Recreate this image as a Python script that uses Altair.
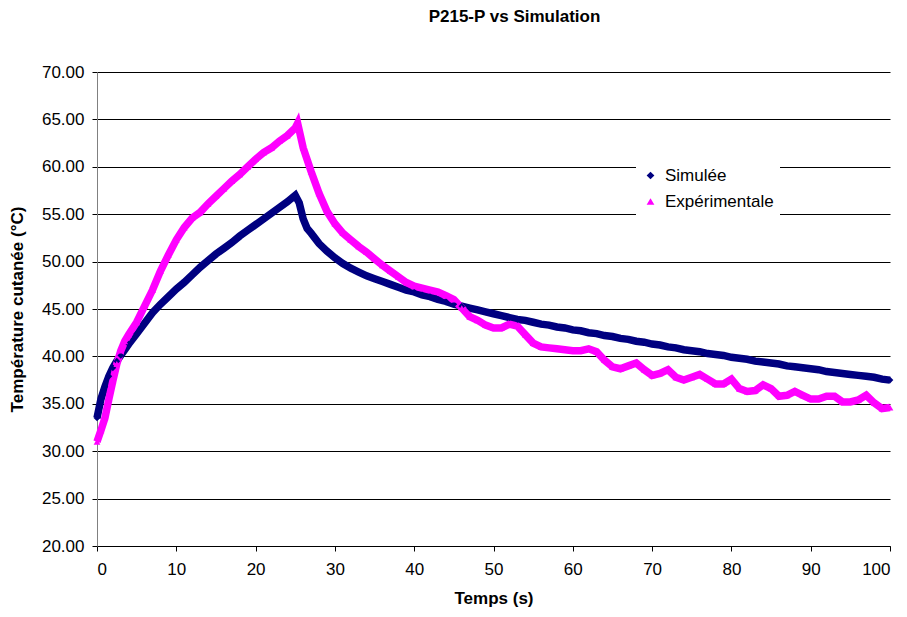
import altair as alt
import pandas as pd

sim_t = [0, 0.5, 1, 1.5, 2, 2.5, 3, 4, 5, 6, 7, 8, 9, 10, 11, 12, 13, 14, 15, 16, 17, 18, 19, 20,
         21, 22, 23, 24, 25, 25.5, 26, 26.5, 27, 28, 29] + list(range(30, 101))
sim_v = [33.5, 35.5, 36.8, 37.9, 38.8, 39.5, 40.1, 41.3, 42.4, 43.5, 44.6, 45.5, 46.3, 47.1, 47.8,
         48.6, 49.4, 50.1, 50.8, 51.4, 52.0, 52.7, 53.3, 53.9, 54.5, 55.1, 55.7, 56.3, 57.0,
         56.2, 54.5, 53.5, 53.0, 51.9, 51.1,
         50.4, 49.8, 49.3, 48.9, 48.5, 48.2, 47.9, 47.6, 47.3, 47.0,
         46.8, 46.5, 46.3, 46.0, 45.8, 45.5, 45.3, 45.1, 44.9, 44.7,
         44.5, 44.3, 44.1, 43.9, 43.8, 43.6, 43.4, 43.3, 43.1, 43.0,
         42.8, 42.7, 42.5, 42.4, 42.2, 42.1, 41.9, 41.8, 41.6, 41.5,
         41.3, 41.2, 41.0, 40.9, 40.7, 40.6, 40.5, 40.3, 40.2, 40.1,
         39.9, 39.8, 39.7, 39.5, 39.4, 39.3, 39.2, 39.0, 38.9, 38.8,
         38.7, 38.6, 38.4, 38.3, 38.2, 38.1, 38.0, 37.9, 37.8, 37.6, 37.5]

exp_t = [0, 0.5, 1, 1.5, 2, 2.5, 3, 3.5, 4, 5, 6, 7, 8, 9, 10, 11, 12, 13, 14, 15, 16, 17, 18, 19,
         20, 21, 22, 23, 24, 25, 25.3, 26, 27, 28, 29] + list(range(30, 101))
exp_v = [31.0, 32.2, 33.5, 35.5, 37.4, 39.2, 40.6, 41.6, 42.3, 43.6, 45.3, 47.0, 49.0, 50.7, 52.3,
         53.6, 54.6, 55.2, 56.1, 56.9, 57.7, 58.5, 59.2, 60.0, 60.8, 61.5, 62.0, 62.7, 63.3, 64.1,
         64.6, 62.0, 59.5, 57.2, 55.3,
         54.0, 53.0, 52.3, 51.6, 51.0, 50.3, 49.6, 49.0, 48.4, 47.8,
         47.4, 47.2, 47.0, 46.8, 46.4, 46.0, 45.1, 44.2, 43.8, 43.3,
         43.0, 43.0, 43.4, 43.2, 42.3, 41.4, 41.0, 40.9, 40.8, 40.7,
         40.6, 40.6, 40.8, 40.5, 39.6, 38.9, 38.7, 39.0, 39.3, 38.6,
         38.0, 38.2, 38.6, 37.8, 37.5, 37.8, 38.1, 37.6, 37.1, 37.1,
         37.6, 36.6, 36.3, 36.4, 37.0, 36.6, 35.8, 35.9, 36.3, 35.9,
         35.5, 35.5, 35.8, 35.8, 35.2, 35.2, 35.4, 35.9, 35.1, 34.5, 34.6]

series_names = ["Simulée", "Expérimentale"]
series_colors = ["#000080", "#FF00FF"]
series_shapes = ["diamond", "triangle-up"]
x_ticks = list(range(0, 101, 10))
y_ticks = list(range(20, 71, 5))

df = pd.concat([
    pd.DataFrame({"t": sim_t, "v": sim_v, "s": series_names[0]}),
    pd.DataFrame({"t": exp_t, "v": exp_v, "s": series_names[1]}),
])

FONT = "Liberation Sans"
FS = 17

x = alt.X("t:Q", scale=alt.Scale(domain=[0, 100], nice=False),
          axis=alt.Axis(values=x_ticks, title="Temps (s)", grid=False, domainColor="black",
                        tickColor="black", tickSize=5, labelPadding=10, titlePadding=13,
                        labelFontSize=FS, titleFontSize=FS, titleFontWeight="bold",
                        labelFont=FONT, titleFont=FONT, labelColor="black", titleColor="black"))
y = alt.Y("v:Q", scale=alt.Scale(domain=[20, 70], nice=False),
          axis=alt.Axis(values=y_ticks, format=".2f", title="Température cutanée (°C)",
                        grid=True, gridColor="black", gridOpacity=1, domainColor="#808080",
                        tickColor="black", tickSize=5, labelPadding=8, titlePadding=15,
                        labelFontSize=FS, titleFontSize=FS, titleFontWeight="bold",
                        labelFont=FONT, titleFont=FONT, labelColor="black", titleColor="black"))

base = alt.Chart(df)
line_layers = [
    base.transform_filter(alt.datum.s == name)
        .mark_line(strokeWidth=7.5, color=col)
        .encode(x=x, y=y, order="t:Q")
    for name, col in zip(series_names, series_colors)
]

legend = alt.Legend(title=None, orient="none", legendX=539, legendY=89, fillColor="white",
                    padding=6, labelFontSize=FS, labelFont=FONT, labelColor="black",
                    symbolSize=60, rowPadding=8, symbolStrokeWidth=0, labelOffset=6)

points = base.mark_point(filled=True, size=45, opacity=1).encode(
    x=x, y=y,
    color=alt.Color("s:N", scale=alt.Scale(domain=series_names, range=series_colors), legend=legend),
    shape=alt.Shape("s:N", scale=alt.Scale(domain=series_names, range=series_shapes), legend=legend),
)

chart = alt.layer(*line_layers, points).properties(
    width=793, height=474,
    autosize=alt.AutoSizeParams(type="none"),
    padding={"left": 89, "top": 64, "right": 9, "bottom": 63},
    title=alt.Title("P215-P vs Simulation", fontSize=FS, fontWeight="bold", font=FONT,
                    color="black", offset=37, dx=21, anchor="middle"),
).configure_view(stroke=None)

chart.save("out.html", embed_options={"renderer": "svg", "actions": False})
